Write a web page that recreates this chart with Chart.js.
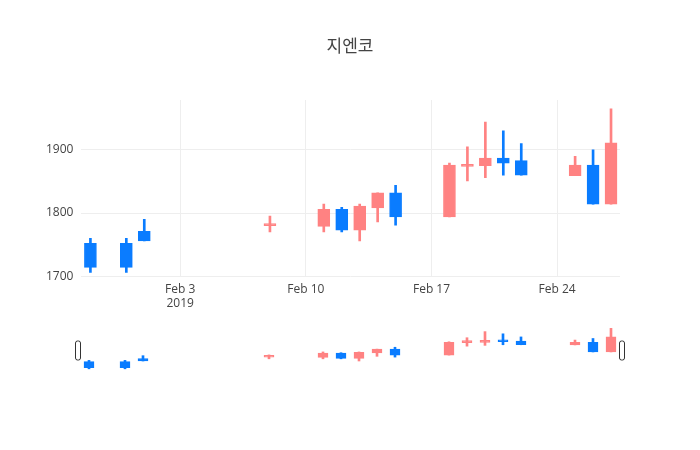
<!DOCTYPE html>
<html>
<head>
<meta charset="utf-8">
<script src="https://cdn.jsdelivr.net/npm/chart.js@4"></script>
<style>
  body { margin: 0; background: #fff; }
  #wrap { position: relative; width: 700px; height: 450px; }
  #title { position: absolute; top: 32px; width: 700px; text-align: center;
           font: 17px "Noto Sans CJK KR", "Open Sans", sans-serif; color: #444; }
  #main { position: absolute; left: 0; top: 0; }
  #mini { position: absolute; left: 0; top: 326px; }
</style>
</head>
<body>
<div id="wrap">
  <canvas id="main" width="700" height="317"></canvas>
  <canvas id="mini" width="700" height="50"></canvas>
  <div id="title">지엔코</div>
</div>
<script>
// day numbers relative to Jan 31 (Feb 1 = 1)
const days = [-2, 0, 1, 8, 11, 12, 13, 14, 15, 18, 19, 20, 21, 22, 25, 26, 27];
const opens  = [1752, 1752, 1771, 1780, 1779, 1806, 1773, 1808, 1832, 1794, 1874, 1875, 1887, 1883, 1859, 1876, 1814];
const closes = [1714, 1714, 1756, 1782, 1806, 1773, 1811, 1832, 1794, 1876, 1876, 1887, 1879, 1860, 1876, 1814, 1911];
const highs  = [1760, 1760, 1790, 1795, 1814, 1809, 1814, 1832, 1844, 1879, 1905, 1944, 1930, 1910, 1890, 1900, 1965];
const lows   = [1706, 1706, 1756, 1770, 1770, 1770, 1756, 1786, 1781, 1794, 1851, 1856, 1860, 1860, 1859, 1814, 1814];
const xTicks = [3, 10, 17, 24];
const tickLabels = [['Feb 3', '2019'], 'Feb 10', 'Feb 17', 'Feb 24'];
const yTicks = [1700, 1800, 1900];

const UP = 'rgb(255,130,130)';
const DOWN = 'rgb(10,124,255)';
const colors = opens.map((o, i) => closes[i] >= o ? UP : DOWN);

Chart.defaults.color = '#444';
Chart.defaults.font = { family: '"Open Sans", sans-serif', size: 12 };

function datasets(bodyW) {
  return [
    {
      data: days.map((d, i) => ({ x: d, y: [lows[i], highs[i]] })),
      backgroundColor: colors, barThickness: 2, grouped: false, order: 2
    },
    {
      data: days.map((d, i) => ({ x: d, y: [opens[i], closes[i]] })),
      backgroundColor: colors, borderColor: colors, borderWidth: 1,
      borderSkipped: false, barThickness: bodyW, grouped: false, order: 1, minBarLength: 2
    }
  ];
}

new Chart(document.getElementById('main'), {
  type: 'bar',
  data: { datasets: datasets(12) },
  options: {
    responsive: false, animation: false,
    layout: { padding: { left: 38, right: 80, top: 100 } },
    plugins: { legend: { display: false }, tooltip: { enabled: false } },
    scales: {
      x: {
        type: 'linear', min: -2.5, max: 27.5, offset: false,
        afterBuildTicks: ax => { ax.ticks = xTicks.map(v => ({ value: v })); },
        ticks: { callback: v => tickLabels[xTicks.indexOf(v)], maxRotation: 0, padding: 6 },
        grid: { color: '#eee', drawTicks: false, offset: false }, border: { display: false }
      },
      y: {
        min: 1700, max: 1979,
        afterBuildTicks: ax => { ax.ticks = yTicks.map(v => ({ value: v })); },
        ticks: { padding: 8, callback: v => String(v) },
        grid: { color: '#eee', drawTicks: false }, border: { display: false }
      }
    }
  }
});

const handles = {
  id: 'handles',
  afterDraw(chart) {
    const { ctx, chartArea: a } = chart;
    ctx.save();
    ctx.fillStyle = '#fff';
    ctx.strokeStyle = '#333';
    ctx.lineWidth = 1;
    [a.left - 2, a.right + 2].forEach(x => {
      ctx.beginPath();
      ctx.roundRect(x - 2.5, a.top + 15, 5, 19, 2);
      ctx.fill(); ctx.stroke();
    });
    ctx.restore();
  }
};

new Chart(document.getElementById('mini'), {
  type: 'bar',
  data: { datasets: datasets(10) },
  plugins: [handles],
  options: {
    responsive: false, animation: false,
    layout: { padding: { left: 80, right: 80, top: 0, bottom: 0 } },
    plugins: { legend: { display: false }, tooltip: { enabled: false } },
    scales: {
      x: { type: 'linear', min: -2.5, max: 27.5, offset: false, display: false },
      y: { min: 1660, max: 1980, display: false }
    }
  }
});
</script>
</body>
</html>
